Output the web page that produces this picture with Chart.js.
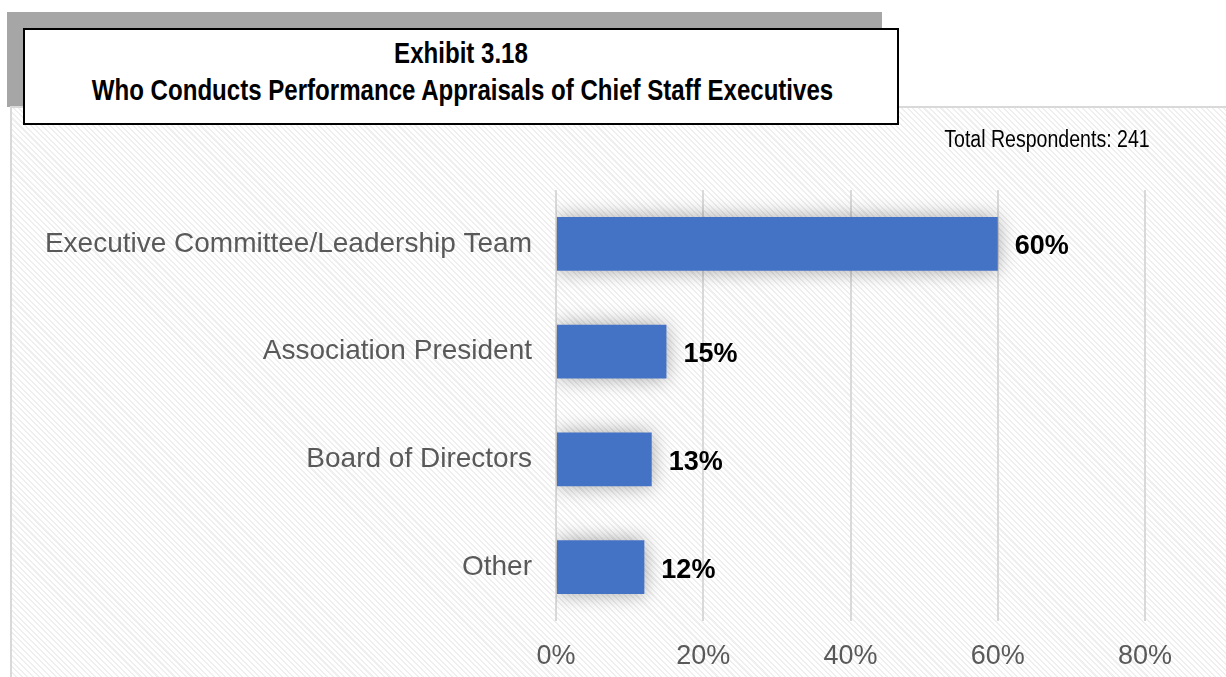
<!DOCTYPE html>
<html>
<head>
<meta charset="utf-8">
<script src="https://cdn.jsdelivr.net/npm/chart.js@4.4.1/dist/chart.umd.min.js"></script>
<style>
  body { margin: 0; background: #fff; }
  #wrap { position: relative; width: 1226px; height: 677px; overflow: hidden; }
  .band { position: absolute; left: 7px; top: 12px; width: 875px; height: 95px; background: #a6a6a6; }
  .panel {
    position: absolute; left: 10px; top: 106px; width: 1216px; height: 571px;
    border-left: 2px solid #d9d9d9; border-top: 2px solid #d9d9d9; box-sizing: border-box;
    background: repeating-linear-gradient(45deg, #ffffff 0px, #ffffff 2.5px, #efefef 2.5px, #efefef 4px);
  }
  .title {
    position: absolute; left: 23px; top: 28px; width: 876px; height: 97px;
    box-sizing: border-box; border: 2px solid #000; background: #fff;
    font-family: "Liberation Sans", Arial, sans-serif;
    font-weight: bold; font-size: 29px; line-height: 37px; text-align: center;
    padding-top: 5px; color: #000;
  }
  .title span { display: block; white-space: nowrap; transform: scaleX(0.83); transform-origin: 50% 50%; }
  .title span.sub { margin-left: -8px; }
  .total {
    position: absolute; right: 76px; top: 126px; white-space: nowrap;
    font-family: "Liberation Sans", Arial, sans-serif;
    font-size: 23px; color: #000;
    transform: scaleX(0.85); transform-origin: 100% 50%;
  }
  canvas { position: absolute; left: 0; top: 0; }
</style>
</head>
<body>
<div id="wrap">
  <div class="band"></div>
  <div class="panel"></div>
  <canvas id="chart" width="1226" height="677"></canvas>
  <div class="title"><span>Exhibit 3.18</span><span class="sub">Who Conducts Performance Appraisals of Chief Staff Executives</span></div>
  <div class="total">Total Respondents: 241</div>
</div>
<script>
const categories = [
  "Executive Committee/Leadership Team",
  "Association President",
  "Board of Directors",
  "Other",
];
const shares = [60, 15, 13, 12];
const tickValues = [0, 20, 40, 60, 80];

// soft halo behind the bars
const barShadow = {
  id: "barShadow",
  beforeDatasetsDraw(chart) {
    const ctx = chart.ctx;
    ctx.save();
    ctx.shadowColor = "rgba(0,0,0,0.35)";
    ctx.shadowBlur = 20;
    ctx.shadowOffsetX = 0;
    ctx.shadowOffsetY = 0;
  },
  afterDatasetsDraw(chart) {
    chart.ctx.restore();
  },
};

// bold percentage next to each bar
const valueLabels = {
  id: "valueLabels",
  afterDatasetsDraw(chart) {
    const ctx = chart.ctx;
    const meta = chart.getDatasetMeta(0);
    ctx.save();
    ctx.font = "bold 27px 'Liberation Sans', Arial, sans-serif";
    ctx.fillStyle = "#000";
    ctx.textAlign = "left";
    ctx.textBaseline = "middle";
    meta.data.forEach((bar, i) => {
      ctx.fillText(shares[i] + "%", bar.x + 17, bar.y + 3);
    });
    ctx.restore();
  },
};

new Chart(document.getElementById("chart"), {
  type: "bar",
  data: {
    labels: categories,
    datasets: [
      {
        data: shares,
        backgroundColor: "#4472c4",
        barPercentage: 0.5,
        categoryPercentage: 1,
      },
    ],
  },
  options: {
    indexAxis: "y",
    responsive: false,
    animation: false,
    layout: { padding: { top: 190, left: 0, right: 81, bottom: 0 } },
    scales: {
      x: {
        min: 0,
        max: 80,
        afterBuildTicks: (scale) => {
          scale.ticks = tickValues.map((v) => ({ value: v }));
        },
        afterFit: (scale) => {
          scale.height = 56;
        },
        ticks: {
          callback: (v) => v + "%",
          color: "#595959",
          padding: 19,
          font: { family: "'Liberation Sans', Arial, sans-serif", size: 27 },
        },
        grid: { color: "#d9d9d9", lineWidth: 2, drawTicks: false },
        border: { display: false },
      },
      y: {
        afterFit: (scale) => {
          scale.width = 556;
        },
        ticks: {
          color: "#595959",
          padding: 16,
          font: { family: "'Liberation Sans', Arial, sans-serif", size: 28 },
        },
        grid: { display: false },
        border: { display: false },
      },
    },
    plugins: {
      legend: { display: false },
      tooltip: { enabled: false },
    },
  },
  plugins: [barShadow, valueLabels],
});
</script>
</body>
</html>
